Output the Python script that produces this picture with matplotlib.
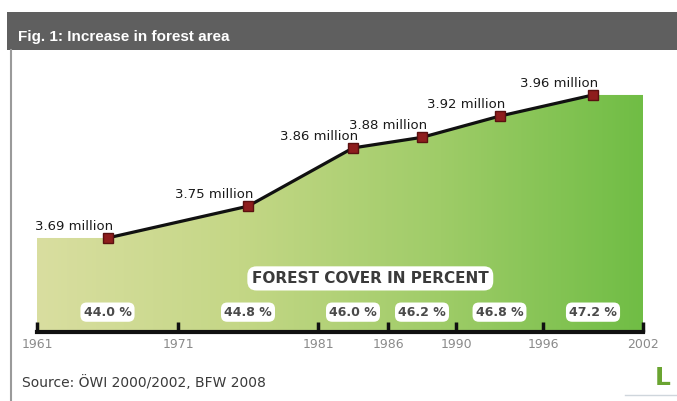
import numpy as np
import matplotlib.pyplot as plt
from matplotlib.colors import LinearSegmentedColormap
from matplotlib.lines import Line2D
from matplotlib.patches import Rectangle
import matplotlib.transforms as mtransforms

# Data (Austrian forest inventory periods)
period_start = [1961, 1971, 1981, 1986, 1990, 1996]
period_end = [1971, 1981, 1986, 1990, 1996, 2002]
area_million = [3.69, 3.75, 3.86, 3.88, 3.92, 3.96]
cover_pct = [44.0, 44.8, 46.0, 46.2, 46.8, 47.2]
tick_years = [1961, 1971, 1981, 1986, 1990, 1996, 2002]

# Layout: relative width of each period on the x axis (not proportional to years)
band_edges = [0, 141, 281, 351, 419, 506, 606]


def fwd(x):
    return np.interp(x, tick_years, band_edges)


def inv(x):
    return np.interp(x, band_edges, tick_years)


fig = plt.figure(figsize=(6.77, 4.01), dpi=100)
W, H = 677, 401

# title bar
fig.patches.append(Rectangle((7 / W, (H - 50) / H), 1, 38 / H, transform=fig.transFigure,
                             facecolor='#5f5f5f', edgecolor='none', zorder=0))
fig.text(18 / W, (H - 37) / H, 'Fig. 1: Increase in forest area', color='white',
         fontsize=11, fontweight='bold', family='Liberation Sans', va='center')
# left frame line
fig.lines.append(Line2D([11 / W, 11 / W], [0, (H - 50) / H], transform=fig.transFigure,
                        color='#9a9a9a', lw=1.5))

ax = fig.add_axes([37 / W, 69 / H, 606 / W, 272 / H])
ax.set_xscale('function', functions=(fwd, inv))

# marker positions at the middle of each period band
mid = inv((fwd(period_start) + fwd(period_end)) / 2)

# green area: flat to both ends, following the line in between
fill_x = np.concatenate([[tick_years[0]], mid, [tick_years[-1]]])
fill_y = np.concatenate([[area_million[0]], area_million, [area_million[-1]]])
y0 = 3.5125
poly = ax.fill_between(fill_x, fill_y, y0, facecolor='none', edgecolor='none')

cmap = LinearSegmentedColormap.from_list('forest', ['#d9dea0', '#c4d786', '#9fcc68', '#70bd45'])
grad = np.linspace(0, 1, 256)[None, :]
im = ax.imshow(grad, cmap=cmap, extent=[0, 1, 0, 1], transform=ax.transAxes,
               aspect='auto', zorder=1)
im.set_clip_path(poly.get_paths()[0], transform=ax.transData)

ax.plot(mid, area_million, color='#111111', lw=2.3, zorder=3)
ax.plot(mid, area_million, ls='none', marker='s', ms=7.5, mfc='#8e1d1d', mec='#5a1010',
        mew=1, zorder=4)

for xv, v in zip(mid, area_million):
    ax.annotate(f'{v:.2f} million', (xv, v), xytext=(4, 6), textcoords='offset points',
                ha='right', va='baseline', fontsize=9.5, color='#1a1a1a', zorder=5)

trans = mtransforms.blended_transform_factory(ax.transData, ax.transAxes)
for xv, p in zip(mid, cover_pct):
    ax.text(xv, 0.073, f'{p:.1f} %', transform=trans, ha='center', va='center',
            fontsize=9, fontweight='bold', color='#4a4a4a', zorder=5,
            bbox=dict(boxstyle='round,pad=0.25,rounding_size=0.5', fc='white', ec='none'))

ax.text(0.55, 0.197, 'FOREST COVER IN PERCENT', transform=ax.transAxes, ha='center',
        va='center', fontsize=11, fontweight='bold', color='#3a3a3a', zorder=5,
        bbox=dict(boxstyle='round,pad=0.3,rounding_size=0.6', fc='white', ec='none'))

ax.set_xlim(tick_years[0], tick_years[-1])
ax.set_ylim(y0, 4.026)
ax.set_xticks(tick_years)
ax.set_xticklabels([str(t) for t in tick_years])
ax.tick_params(axis='x', direction='in', length=7, width=2.5, color='#111111',
               labelcolor='#8a8a8a', labelsize=9, pad=4.5)
ax.set_yticks([])
for s in ['top', 'left', 'right']:
    ax.spines[s].set_visible(False)
ax.spines['bottom'].set_linewidth(3)
ax.spines['bottom'].set_color('#111111')
ax.patch.set_alpha(0)

fig.text(22 / W, (H - 383) / H, 'Source: ÖWI 2000/2002, BFW 2008', fontsize=10,
         color='#3a3a3a', va='center')
fig.text(663 / W, (H - 378) / H, 'L', fontsize=18, fontweight='bold', color='#6aa431',
         ha='center', va='center')
fig.lines.append(Line2D([625 / W, 1], [(H - 395) / H] * 2, transform=fig.transFigure,
                        color='#cfd6dc', lw=1))

fig.savefig('out.png', dpi=100)
